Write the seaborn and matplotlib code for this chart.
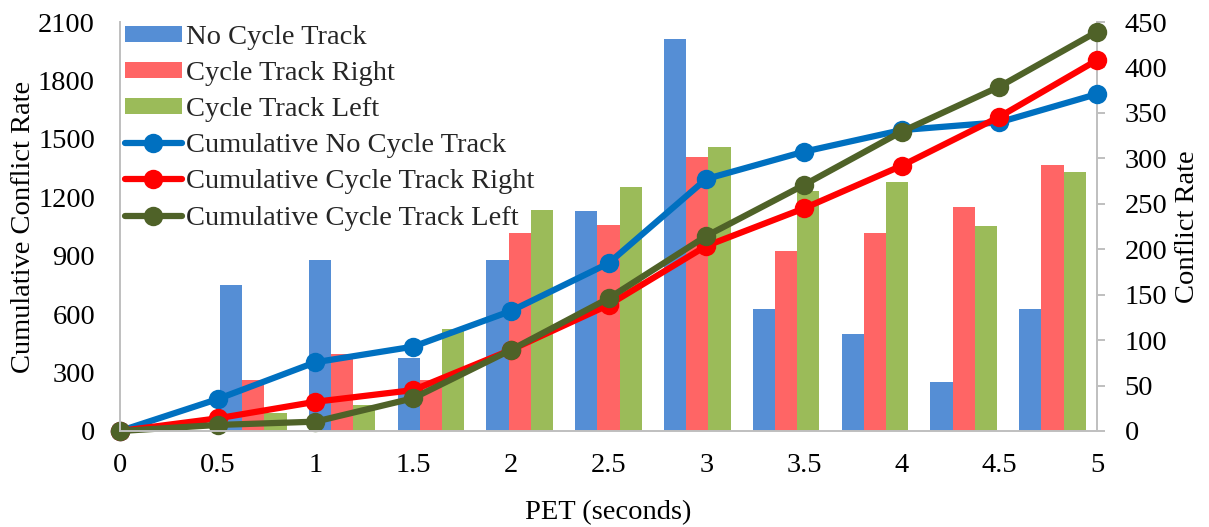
import matplotlib
matplotlib.use("Agg")
import matplotlib.pyplot as plt
import seaborn as sns
import pandas as pd
import numpy as np

# ---- data ----
pet = [0, 0.5, 1, 1.5, 2, 2.5, 3, 3.5, 4, 4.5, 5]
pet_labels = ["0", "0.5", "1", "1.5", "2", "2.5", "3", "3.5", "4", "4.5", "5"]

bar_series = ["No Cycle Track", "Cycle Track Right", "Cycle Track Left"]
rate_no = [0, 161, 188, 80, 188, 242, 431, 134, 107, 54, 134]
rate_right = [0, 56, 85, 56, 218, 227, 302, 198, 218, 246, 293]
rate_left = [0, 20, 29, 112, 243, 269, 313, 264, 274, 226, 285]

line_series = ["Cumulative No Cycle Track", "Cumulative Cycle Track Right",
               "Cumulative Cycle Track Left"]
cum_no = [0, 164, 353, 433, 616, 861, 1294, 1434, 1545, 1585, 1730]
cum_right = [0, 65, 150, 210, 416, 647, 950, 1143, 1362, 1613, 1904]
cum_left = [0, 31, 48, 168, 416, 681, 1001, 1263, 1537, 1768, 2050]

bar_colors = ["#558ED5", "#FF6565", "#9BBB59"]
line_colors = ["#0070C0", "#FF0000", "#4F6228"]

# ---- style ----
sns.set_theme(style="white")
plt.rcParams["font.family"] = ["Liberation Serif", "DejaVu Serif"]
FS = 20.5
GRAY = "#BFBFBF"

W, H = 1209, 527
fig = plt.figure(figsize=(W / 100, H / 100), dpi=100)
L, R, T, B = 120, 1097, 22, 431
rect = [L / W, 1 - B / H, (R - L) / W, (B - T) / H]

# ---- bars (right axis) ----
ax_bar = fig.add_axes(rect)
df_bar = pd.DataFrame({
    "PET": pet_labels * 3,
    "rate": rate_no + rate_right + rate_left,
    "series": [s for s in bar_series for _ in pet_labels],
})
sns.barplot(data=df_bar, x="PET", y="rate", hue="series", order=pet_labels,
            hue_order=bar_series, palette=bar_colors, saturation=1,
            width=0.75, linewidth=0, ax=ax_bar)
ax_bar.set_xlim(-0.5, len(pet_labels) - 0.5)
ax_bar.set_ylim(0, 450)
ax_bar.set_yticks(np.arange(0, 451, 50))
ax_bar.yaxis.tick_right()
ax_bar.yaxis.set_label_position("right")
ax_bar.set_xticks([])
ax_bar.set_xlabel("")
ax_bar.set_ylabel("Conflict Rate", fontsize=FS, color="black")
ax_bar.yaxis.set_label_coords((1188 - L) / (R - L), 0.5)
ax_bar.yaxis.label.set_va("center")
ax_bar.yaxis.label.set_ha("center")
ax_bar.tick_params(axis="y", which="both", right=True, left=False, length=6,
                   width=1.4, color=GRAY, labelsize=FS, pad=14, labelcolor="black")
for s in ["left", "top", "bottom"]:
    ax_bar.spines[s].set_visible(False)
ax_bar.spines["right"].set_color(GRAY)
ax_bar.spines["right"].set_linewidth(1.4)
bar_handles, bar_labels = ax_bar.get_legend_handles_labels()
if ax_bar.get_legend() is not None:
    ax_bar.get_legend().remove()

# ---- lines (left axis) ----
ax_line = fig.add_axes(rect)
ax_line.patch.set_visible(False)
for name, vals, c in zip(line_series, [cum_no, cum_right, cum_left], line_colors):
    sns.lineplot(x=pet, y=vals, color=c, linewidth=4.5, marker="o",
                 markersize=14, markeredgewidth=0, label=name, ax=ax_line,
                 clip_on=False)
ax_line.set_xlim(0, 5)
ax_line.set_ylim(0, 2100)
ax_line.set_yticks(np.arange(0, 2101, 300))
ax_line.set_xticks(pet)
ax_line.set_xticklabels(pet_labels)
ax_line.tick_params(axis="x", length=0, labelsize=FS, pad=16, labelcolor="black")
ax_line.tick_params(axis="y", length=0, labelsize=FS, pad=18, labelcolor="black")
ax_line.set_xlabel("PET (seconds)", fontsize=FS, color="black")
ax_line.xaxis.set_label_coords(0.5, (B - 513) / (B - T))
ax_line.xaxis.label.set_va("center")
ax_line.set_ylabel("Cumulative Conflict Rate", fontsize=FS, color="black")
ax_line.yaxis.set_label_coords((23 - L) / (R - L), 0.5)
ax_line.yaxis.label.set_va("center")
ax_line.spines["top"].set_visible(False)
ax_line.spines["right"].set_visible(False)
for s in ["left", "bottom"]:
    ax_line.spines[s].set_color(GRAY)
    ax_line.spines[s].set_linewidth(1.4)
line_handles, line_labels = ax_line.get_legend_handles_labels()
if ax_line.get_legend() is not None:
    ax_line.get_legend().remove()

ax_line.legend(bar_handles + line_handles, bar_labels + line_labels,
               loc="upper left", bbox_to_anchor=(125 / W, 1 - 25 / H),
               bbox_transform=fig.transFigure, frameon=False, fontsize=FS,
               labelspacing=0.39, handlelength=2.0, handletextpad=0.15,
               handleheight=0.47, borderpad=0, borderaxespad=0)

fig.savefig("out.png", dpi=100)
